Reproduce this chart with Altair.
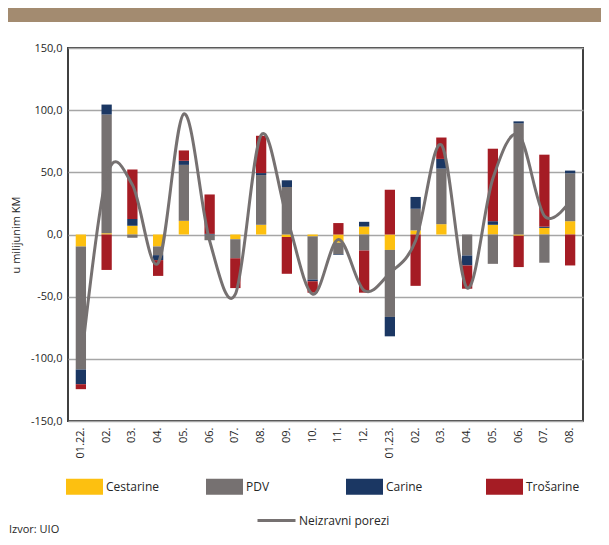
import altair as alt
import pandas as pd

# ---- data ----
months = ["01.22", "02.22", "03.22", "04.22", "05.22", "06.22", "07.22", "08.22",
          "09.22", "10.22", "11.22", "12.22", "01.23", "02.23", "03.23", "04.23",
          "05.23", "06.23", "07.23", "08.23"]
cestarine = [-9.7, 1.0, 7.0, -9.6, 11.0, 0.0, -3.8, 7.8, -2.0, -1.5, -6.6, 6.4,
             -12.4, 3.3, 8.3, 0.0, 7.8, -1.0, 5.3, 10.7]
pdv = [-98.9, 95.5, -2.7, -7.0, 45.0, -4.6, -15.3, 40.0, 38.2, -34.8, -9.4, -12.9,
       -53.9, 17.4, 44.7, -16.9, -23.6, 89.4, -22.7, 38.5]
carine = [-11.8, 8.0, 5.4, -4.0, 3.3, 0.5, 0.0, 1.6, 5.4, -1.3, -0.5, 3.8,
          -15.6, 9.5, 7.8, -8.0, 2.9, 1.6, 1.0, 2.2]
trosarine = [-4.0, -28.5, 39.8, -12.7, 8.3, 31.7, -24.0, 30.0, -29.6, -9.2, 9.2, -33.9,
             36.0, -41.3, 17.2, -18.7, 58.3, -25.2, 57.9, -24.9]
neizravni = [-105, 47, 40, -23, 97, -5, -48, 80, 14, -48, -4, -45,
             -31, -5, 72, -43, 45, 80, 15, 27]

series_names = ["Cestarine", "PDV", "Carine", "Trošarine"]
series_colors = ["#FDC010", "#767171", "#1B3763", "#A51C24"]
line_name = "Neizravni porezi"
y_title = "u milijunim KM"
source = "Izvor: UIO"

# ---- tables ----
rows = []
for i, m in enumerate(months):
    for k, (name, vals) in enumerate(zip(series_names, [cestarine, pdv, carine, trosarine])):
        rows.append({"mjesec": m, "serija": name, "vrijednost": vals[i], "red": k})
bars_df = pd.DataFrame(rows)
line_df = pd.DataFrame({"mjesec": months, "vrijednost": neizravni, "serija": line_name})

W, H = 515, 373
FONT = "Open Sans"

x_enc = alt.X(
    "mjesec:N", sort=months, title=None,
    scale=alt.Scale(paddingInner=0.6, paddingOuter=0.3),
    axis=alt.Axis(
        labelAngle=-90, ticks=False, domain=False, labelPadding=6,
        labelFont=FONT, labelFontSize=11, labelColor="#262626",
        labelExpr="(datum.value == '01.22' || datum.value == '01.23') ? datum.value + '.' : substring(datum.value, 0, 2) + '.'",
    ),
)
y_scale = alt.Scale(domain=[-150, 150], nice=False)
y_axis = alt.Axis(
    values=[-150, -100, -50, 0, 50, 100, 150], ticks=False, domain=False,
    grid=True, gridColor="#a6a6a6", gridWidth=1.5,
    labelFont=FONT, labelFontSize=11, labelColor="#262626", labelPadding=6,
    labelExpr="replace((datum.value < 0 ? '-' : '') + format(abs(datum.value), '.1f'), '.', ',')",
    title=y_title, titleFont=FONT, titleFontSize=11, titleFontWeight="normal",
    titleColor="#262626", titlePadding=9,
)

bars = alt.Chart(bars_df).mark_bar().encode(
    x=x_enc,
    y=alt.Y("vrijednost:Q", stack="zero", scale=y_scale, axis=y_axis),
    color=alt.Color(
        "serija:N",
        scale=alt.Scale(domain=series_names, range=series_colors),
        legend=alt.Legend(
            title=None, orient="none", legendX=-2, legendY=420,
            direction="horizontal", columns=4, gridAlign="all", columnPadding=46,
            symbolType="M-1,-0.432L1,-0.432L1,0.432L-1,0.432Z", symbolSize=1369,
            symbolStrokeWidth=0, symbolOpacity=1, labelOffset=3,
            labelFont=FONT, labelFontSize=12, labelColor="#262626",
        ),
    ),
    order=alt.Order("red:Q"),
)

line = alt.Chart(line_df).mark_line(interpolate="cardinal", strokeWidth=3).encode(
    x=alt.X("mjesec:N", sort=months),
    y=alt.Y("vrijednost:Q", scale=y_scale),
    stroke=alt.Stroke(
        "serija:N",
        scale=alt.Scale(domain=[line_name], range=["#767171"]),
        legend=alt.Legend(
            title=None, orient="none", legendX=188, legendY=452,
            symbolType="stroke", symbolSize=1444, symbolStrokeWidth=3,
            labelOffset=2, labelFont=FONT, labelFontSize=12, labelColor="#262626",
        ),
    ),
)

header = alt.Chart(pd.DataFrame({"h": [0]})).mark_rect(color="#A38B70").encode(
    x=alt.value(-60), x2=alt.value(W + 40), y=alt.value(-42), y2=alt.value(-26)
)

src = alt.Chart(pd.DataFrame({"t": [source]})).mark_text(
    align="left", baseline="middle", font=FONT, fontSize=11, color="#262626"
).encode(text="t:N", x=alt.value(-59), y=alt.value(482))

chart = alt.layer(header, bars, line, src).properties(
    width=W, height=H,
    autosize=alt.AutoSizeParams(type="none"),
    padding={"left": 60, "top": 40, "right": 18, "bottom": 116},
    background="white",
).configure_view(stroke="#404040", strokeWidth=2)

chart.save("out.html", embed_options={"renderer": "svg", "actions": False})
